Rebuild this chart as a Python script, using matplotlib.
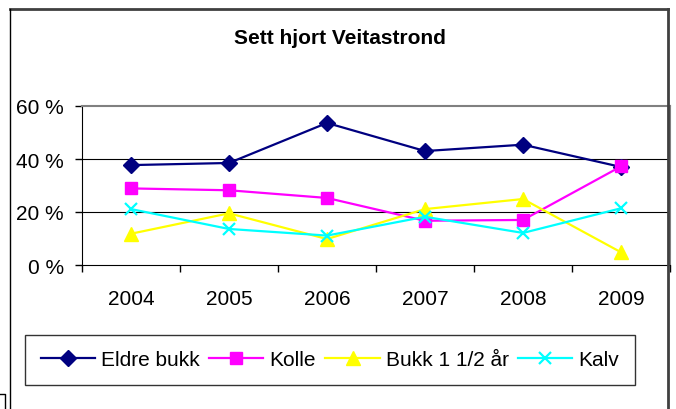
import matplotlib.pyplot as plt
from matplotlib.lines import Line2D
import numpy as np

plt.rcParams['font.family'] = ['Liberation Sans', 'DejaVu Sans']

years = ["2004", "2005", "2006", "2007", "2008", "2009"]
eldre_bukk = [37.7, 38.5, 53.6, 43.0, 45.4, 37.0]
kolle = [28.9, 28.2, 25.3, 16.7, 17.0, 37.2]
bukk_1_5 = [11.8, 19.5, 9.8, 21.1, 24.9, 4.8]
kalv = [21.1, 13.6, 11.1, 18.2, 12.1, 21.4]
yticks = [0, 20, 40, 60]

W, H = 676, 410
fig = plt.figure(figsize=(W / 100, H / 100), dpi=100)
ax = fig.add_axes([82 / W, 1 - 266 / H, (670 - 82) / W, (266 - 107) / H])

x = np.arange(len(years))
ax.plot(x, eldre_bukk, color="#000080", lw=1.6, marker="D", ms=8.5,
        label="Eldre bukk")
ax.plot(x, kolle, color="#FF00FF", lw=1.6, marker="s", ms=8, label="Kolle")
ax.plot(x, bukk_1_5, color="#FFFF00", lw=1.6, marker="^", ms=10,
        label="Bukk 1 1/2 år")
ax.plot(x, kalv, color="#00FFFF", lw=1.6, marker="x", ms=9, mew=1.6,
        label="Kalv")

ax.set_xlim(-0.5, len(years) - 0.5)
ax.set_ylim(0, 60)
ax.set_yticks(yticks)
ax.set_yticklabels([f"{v} %" for v in yticks], fontsize=15)
ax.set_xticks(np.arange(len(years) + 1) - 0.5)
ax.set_xticklabels([])
ax.set_xticks(x, minor=True)
ax.set_xticklabels(years, minor=True, fontsize=15)
ax.tick_params(axis="x", which="major", length=5, width=1, direction="out")
ax.tick_params(axis="x", which="minor", length=0, pad=17)
ax.tick_params(axis="y", length=5, width=1, pad=8)

for v in [20, 40]:
    ax.axhline(v, color="black", lw=0.8, zorder=0)

ax.spines["left"].set_color("black")
ax.spines["bottom"].set_color("black")
ax.spines["top"].set_color("#808080")
ax.spines["right"].set_color("#808080")
ax.spines["top"].set_linewidth(1.5)
ax.spines["right"].set_linewidth(1.5)

fig.text(340 / W, 1 - 38 / H, "Sett hjort Veitastrond", fontsize=15,
         fontweight="bold", ha="center", va="center")

leg = fig.legend(loc="center", bbox_to_anchor=(330 / W, 1 - 361 / H),
                 ncol=4, fontsize=15, frameon=True, fancybox=False,
                 handlelength=2.6, handletextpad=0.3, columnspacing=0.45,
                 borderpad=0.75, borderaxespad=0)
leg.get_frame().set_edgecolor("black")
leg.get_frame().set_linewidth(1)

# outer chart frame
fig.add_artist(Line2D([10 / W, 668 / W], [1 - 10 / H, 1 - 10 / H],
                      color="#404040", lw=2))
fig.add_artist(Line2D([10 / W, 10 / W], [1 - 10 / H, 0], color="black", lw=1))
fig.add_artist(Line2D([668 / W, 668 / W], [1 - 10 / H, 0],
                      color="#404040", lw=2))
fig.add_artist(Line2D([0, 5 / W, 5 / W], [1 - 395 / H, 1 - 395 / H, 0],
                      color="black", lw=1))

fig.savefig("out.png", dpi=100)
